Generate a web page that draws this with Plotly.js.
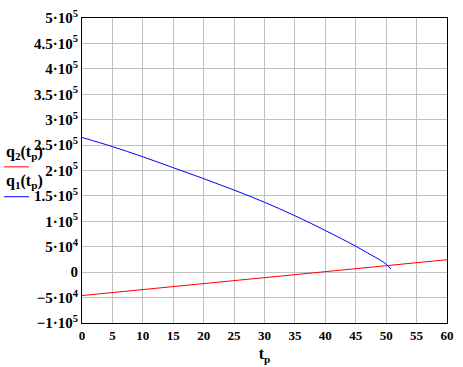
<!DOCTYPE html>
<html>
<head>
<meta charset="utf-8">
<script src="https://cdn.plot.ly/plotly-3.0.1.min.js"></script>
<style>html,body{margin:0;padding:0;background:#fff;}#chart{width:463px;height:367px;}</style>
</head>
<body>
<div id="chart"></div>
<script>
// q1(tp) curve (blue)
var tpQ1 = [0, 5, 10, 15, 20, 25, 30, 35, 40, 45, 47.5, 49, 50, 50.8];
var q1 = [265000, 247000, 227000, 205500, 184000, 161500, 137500, 111000, 82000, 51000, 34000, 24000, 15600, 6000];
// q2(tp) line (red)
var tpQ2 = [0, 24, 60];
var q2 = [-46000, -18000, 24500];
// tick labels
var xTickVals = [0, 5, 10, 15, 20, 25, 30, 35, 40, 45, 50, 55, 60];
var xTickText = ["0", "5", "10", "15", "20", "25", "30", "35", "40", "45", "50", "55", "60"];
var yTickVals = [-100000, -50000, 0, 50000, 100000, 150000, 200000, 250000, 300000, 350000, 400000, 450000, 500000];
var yTickText = ["\u22121\u00b710<sup>5</sup>", "\u22125\u00b710<sup>4</sup>", "0", "5\u00b710<sup>4</sup>", "1\u00b710<sup>5</sup>",
  "1.5\u00b710<sup>5</sup>", "2\u00b710<sup>5</sup>", "2.5\u00b710<sup>5</sup>", "3\u00b710<sup>5</sup>", "3.5\u00b710<sup>5</sup>",
  "4\u00b710<sup>5</sup>", "4.5\u00b710<sup>5</sup>", "5\u00b710<sup>5</sup>"];

var serif = "Liberation Serif, Times New Roman, serif";
var traces = [
  {x: tpQ2, y: q2, mode: "lines", line: {color: "#ff0000", width: 1}, hoverinfo: "skip"},
  {x: tpQ1, y: q1, mode: "lines", line: {color: "#0000ff", width: 1, shape: "spline", smoothing: 1}, hoverinfo: "skip"}
];
var layout = {
  width: 463, height: 367,
  margin: {l: 82, r: 16, t: 18, b: 44},
  paper_bgcolor: "#ffffff", plot_bgcolor: "#ffffff",
  showlegend: false,
  xaxis: {
    range: [0, 60], tickvals: xTickVals, ticktext: xTickText,
    showgrid: true, gridcolor: "#c0c0c0", gridwidth: 1,
    zeroline: false, showline: true, linecolor: "#000", linewidth: 1, mirror: true,
    ticks: "", tickfont: {family: serif, size: 13, color: "#000", weight: "bold"},
    title: {text: "t<sub>p</sub>", font: {family: serif, size: 16, color: "#000", weight: "bold"}, standoff: 6}
  },
  yaxis: {
    range: [-100000, 500000], tickvals: yTickVals, ticktext: yTickText,
    showgrid: true, gridcolor: "#c0c0c0", gridwidth: 1,
    zeroline: false, showline: true, linecolor: "#000", linewidth: 1, mirror: true,
    ticks: "", tickfont: {family: serif, size: 15, color: "#000", weight: "bold"}
  },
  annotations: [
    {xref: "paper", yref: "paper", x: -0.2137, xanchor: "left", y: 0.558, text: "q<sub>2</sub>(t<sub>p</sub>)", showarrow: false,
     font: {family: serif, size: 16, color: "#000", weight: "bold"}},
    {xref: "paper", yref: "paper", x: -0.2137, xanchor: "left", y: 0.463, text: "q<sub>1</sub>(t<sub>p</sub>)", showarrow: false,
     font: {family: serif, size: 16, color: "#000", weight: "bold"}}
  ],
  shapes: [
    {type: "line", xref: "paper", yref: "paper", x0: -0.2137, x1: -0.1452, y0: 0.512, y1: 0.512, line: {color: "#ff0000", width: 1}},
    {type: "line", xref: "paper", yref: "paper", x0: -0.2137, x1: -0.1452, y0: 0.414, y1: 0.414, line: {color: "#0000ff", width: 1}}
  ]
};
Plotly.newPlot("chart", traces, layout, {staticPlot: true, displayModeBar: false});
</script>
</body>
</html>
